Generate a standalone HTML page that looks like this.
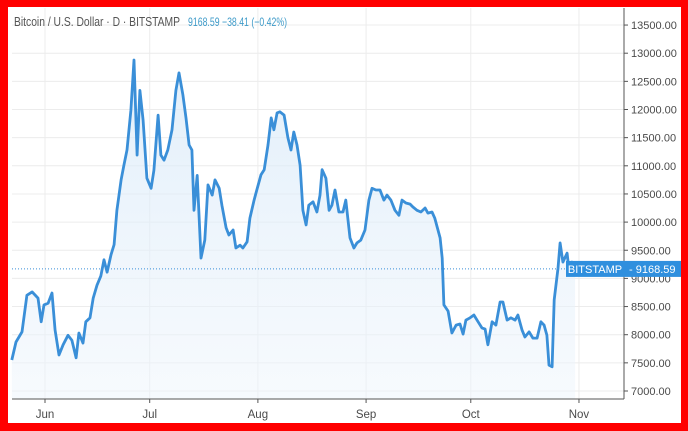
<!DOCTYPE html>
<html><head><meta charset="utf-8"><style>
html,body{margin:0;padding:0;background:#f00;}
svg{display:block;font-family:"Liberation Sans",sans-serif;}
</style></head><body>
<svg id="chart" width="688" height="431">
<rect x="0" y="0" width="688" height="431" fill="#ff0000"/>
<rect x="8" y="7" width="673" height="416" fill="#ffffff"/>
<g id="grid"></g>
<g id="series"></g>
<g id="axes"></g>
<text x="14" y="26" font-size="12.5" fill="#555" textLength="166" lengthAdjust="spacingAndGlyphs">Bitcoin / U.S. Dollar · D · BITSTAMP</text>
<text x="188" y="26" font-size="12" fill="#3f9bc9" textLength="99" lengthAdjust="spacingAndGlyphs">9168.59  −38.41 (−0.42%)</text>
</svg>
<script>
const days=[-9.5,-8.3,-6.6,-5.2,-3.7,-2,-1.1,-0.3,0.9,2,2.9,4,5.2,6.6,7.7,8.9,9.7,10.9,11.7,12.9,13.8,14.9,16,16.9,17.8,18.9,19.8,20.6,21.8,22.6,23.5,24.6,25.5,26.4,27.2,28.1,29.2,30.4,31.2,32.4,33.2,34.1,35.2,36.4,37.5,38.4,39.5,40.4,41.3,42.1,42.7,43.6,44.7,45.8,46.7,47.9,48.7,49.9,50.7,51.9,52.7,53.9,54.7,55.9,56.7,57.9,58.7,59.9,60.7,61.9,62.8,63.9,64.8,65.6,66.5,67.3,68.5,69.6,70.5,71.3,72.2,73.1,73.9,74.8,75.6,76.8,77.9,78.8,79.4,80.5,81.4,82.2,83.1,84.2,85.4,86.2,87.4,88.5,89.4,90.5,91.7,92.8,93.7,94.8,96,97.1,98,99.1,100.3,101.4,102.3,103.4,104.6,105.4,106.6,107.7,108.9,109.7,110.9,111.7,113.2,113.8,114.3,115.5,116.6,117.8,118.9,119.8,120.6,121.8,122.9,124.1,125.2,126.1,126.9,128.1,129.2,130.4,131.2,132.4,133.5,134.7,135.5,136.7,137.5,138.7,139.8,141,142.1,143,143.8,144.4,145.3,145.9,147,147.6,148.4,149.6,150.1,151,151.9];
const prices=[7550,7870,8050,8700,8760,8650,8230,8530,8560,8740,8080,7640,7820,7990,7900,7590,8030,7850,8230,8300,8650,8880,9040,9330,9110,9420,9600,10210,10750,11010,11280,11990,12880,11190,12340,11810,10780,10600,10920,11900,11190,11100,11280,11640,12340,12650,12260,11850,11370,11280,10210,10830,9360,9680,10660,10480,10750,10600,10300,9900,9770,9860,9540,9590,9540,9650,10070,10390,10570,10840,10930,11370,11850,11640,11940,11960,11900,11500,11280,11600,11370,11010,10210,9950,10300,10360,10180,10480,10930,10780,10210,10300,10570,10180,10180,10390,9720,9540,9630,9680,9860,10390,10600,10570,10570,10390,10480,10390,10210,10120,10390,10340,10320,10270,10210,10180,10250,10160,10180,10070,9720,9360,8530,8420,8030,8170,8190,8010,8260,8300,8350,8230,8120,8100,7820,8230,8170,8580,8580,8260,8300,8260,8350,8080,7960,8050,7940,7940,8230,8170,7990,7460,7430,8620,9180,9630,9290,9450,9180,9290,9170];
const priceTicks=[7000,7500,8000,8500,9000,9500,10000,10500,11000,11500,12000,12500,13000,13500];
const monthLabels=["Jun","Jul","Aug","Sep","Oct","Nov"];
const monthDays=[0,30,61,92,122,153];
const lastPrice=9168.59;
const NS="http://www.w3.org/2000/svg";
const xS=d=>45+d*3.49;
const yS=v=>391-(v-7000)/500*28.15;
const plotL=12,plotR=624,plotT=8,plotB=399;
function mk(tag,attrs,parent){const e=document.createElementNS(NS,tag);for(const k in attrs)e.setAttribute(k,attrs[k]);parent.appendChild(e);return e;}
const grid=document.getElementById('grid'),series=document.getElementById('series'),axes=document.getElementById('axes');
priceTicks.forEach(v=>{const l=mk('line',{x1:plotL,x2:plotR,y1:yS(v),y2:yS(v),stroke:'#ececec','stroke-width':1},grid);


const t=mk('line',{x1:plotR,x2:plotR+4,y1:yS(v),y2:yS(v),stroke:'#555'},axes);


const tx=mk('text',{x:631,y:yS(v)+4,'font-size':11,fill:'#4a4a4a'},axes);tx.textContent=v.toFixed(2);

});
monthDays.forEach((d,i)=>{const l=mk('line',{x1:xS(d),x2:xS(d),y1:plotT,y2:plotB,stroke:'#ececec'},grid);


const t=mk('line',{x1:xS(d),x2:xS(d),y1:plotB,y2:plotB+4,stroke:'#555'},axes);


const tx=mk('text',{x:xS(d),y:418,'font-size':11.5,fill:'#4a4a4a','text-anchor':'middle'},axes);tx.textContent=monthLabels[i];

});
const defs=mk('defs',{},series);const g=mk('linearGradient',{id:'fg',x1:0,y1:0,x2:0,y2:1},defs);
mk('stop',{offset:0,'stop-color':'#d6e8f8','stop-opacity':0.7},g);mk('stop',{offset:1,'stop-color':'#eef5fc','stop-opacity':0.5},g);
let pts=days.map((d,i)=>xS(d).toFixed(1)+','+yS(prices[i]).toFixed(1));
const area=mk('polygon',{points:xS(days[0])+','+plotB+' '+pts.join(' ')+' '+xS(days[days.length-1])+','+plotB,fill:'url(#fg)'},series);


const line=mk('polyline',{points:pts.join(' '),fill:'none',stroke:'#3a8fd8','stroke-width':2.8,'stroke-linejoin':'round'},series);


const pl=mk('line',{x1:plotL,x2:plotR,y1:yS(lastPrice),y2:yS(lastPrice),stroke:'#3a8fd8','stroke-dasharray':'1,2'},series);


mk('line',{x1:plotR,x2:plotR,y1:plotT,y2:plotB,stroke:'#555'},axes);
mk('line',{x1:plotL,x2:plotR,y1:plotB,y2:plotB,stroke:'#555'},axes);
const yl=yS(lastPrice);
const b1=mk('rect',{x:566,y:yl-8,width:58,height:16,fill:'#2f8fde'},axes);


const t1=mk('text',{x:595,y:yl+4,'font-size':11,fill:'#fff','text-anchor':'middle'},axes);t1.textContent='BITSTAMP';


const b2=mk('rect',{x:624,y:yl-8,width:57,height:16,fill:'#2f8fde'},axes);


const t2=mk('text',{x:629,y:yl+4,'font-size':11,fill:'#fff'},axes);t2.textContent='- '+lastPrice.toFixed(2);


</script>
</body></html>
